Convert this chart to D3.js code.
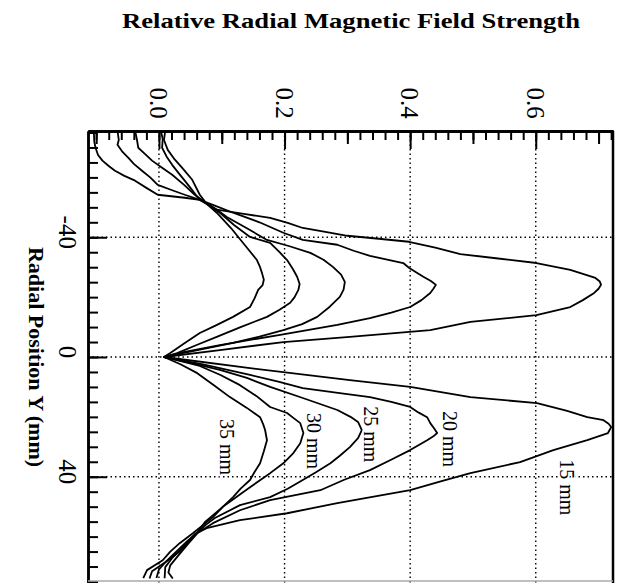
<!DOCTYPE html>
<html>
<head>
<meta charset="utf-8">
<script src="https://cdn.jsdelivr.net/npm/d3@7"></script>
<style>
  body { margin: 0; background: #fff; }
</style>
</head>
<body>
<div id="chart"></div>
<script>
const width = 626;
const height = 583;
const margin = { top: 131, right: 13, bottom: 0, left: 88 };

// tick values / labels
const xTicksMajor = [0, 0.2, 0.4, 0.6];
const xTickLabels = ["0.0", "0.2", "0.4", "0.6"];
const yTicksMajor = [-40, 0, 40];
const yTickLabels = ["-40", "0", "40"];

// curves: [radial position Y (mm), relative field strength]
const curve15 = [[-76.5,-0.104],[-72,-0.103],[-69.9,-0.101],[-67.5,-0.097],[-65.6,-0.090],[-63.8,-0.080],[-62.2,-0.070],[-60.5,-0.055],[-58.9,-0.038],[-56.5,-0.020],[-54.2,-0.002],[-53.2,0.041],[-52.5,0.065],[-49.2,0.092],[-47.8,0.135],[-46.5,0.177],[-44.8,0.205],[-43.1,0.229],[-41.8,0.265],[-40.5,0.300],[-39.5,0.350],[-38.5,0.398],[-36.5,0.440],[-34.4,0.480],[-32.9,0.540],[-31.4,0.601],[-29.1,0.655],[-26.4,0.695],[-25.2,0.702],[-24.1,0.704],[-22.8,0.700],[-21.4,0.693],[-19,0.675],[-16.7,0.655],[-14.0,0.601],[-11.7,0.496],[-9.0,0.432],[-6.7,0.304],[-5.0,0.198],[-2.3,0.097],[0,0.008],[3.7,0.145],[7.7,0.304],[10.0,0.400],[13.4,0.496],[15.4,0.602],[18,0.650],[20.1,0.682],[21.1,0.708],[22.3,0.716],[23.4,0.720],[25.4,0.715],[27.8,0.682],[31.1,0.628],[35.1,0.575],[38.8,0.496],[41.5,0.450],[44.5,0.400],[48.8,0.284],[52.2,0.204],[54.5,0.129],[57.2,0.076],[59,0.058],[61.2,0.048],[65,0.033],[68.6,0.010],[71.6,-0.011],[74,-0.015]];
const curve20 = [[-75.5,-0.066],[-72.5,-0.064],[-70.9,-0.066],[-68.5,-0.058],[-66.6,-0.049],[-64.5,-0.040],[-62.2,-0.027],[-60,-0.014],[-57.5,-0.002],[-55.8,0.020],[-54.2,0.041],[-52.5,0.065],[-50.5,0.090],[-48.2,0.118],[-45,0.160],[-41.5,0.198],[-39.1,0.229],[-37.5,0.284],[-35.5,0.310],[-33.8,0.336],[-31.4,0.389],[-29.8,0.398],[-28.2,0.410],[-26.8,0.421],[-25.4,0.433],[-24.1,0.441],[-22.8,0.437],[-21.4,0.432],[-19,0.418],[-16.7,0.400],[-14.8,0.370],[-13.0,0.336],[-10.7,0.284],[-7.4,0.193],[-4.0,0.097],[-1.5,0.035],[0,0.008],[2.5,0.070],[6.0,0.145],[8.2,0.190],[10.4,0.229],[12,0.285],[13.4,0.336],[15,0.370],[16.7,0.400],[18.5,0.413],[20.1,0.427],[22.1,0.432],[23.8,0.438],[25.4,0.443],[26.5,0.437],[27.8,0.427],[31.1,0.400],[34.5,0.368],[37.8,0.336],[41,0.295],[44.5,0.257],[47.8,0.177],[51.2,0.129],[55.5,0.086],[58.9,0.061],[62,0.048],[64.5,0.038],[67,0.028],[69.6,0.018],[72,0.015],[74,0.022]];
const curve25 = [[-75.6,-0.038],[-72.5,-0.035],[-69.9,-0.033],[-67.8,-0.022],[-65.6,-0.011],[-63.2,0.005],[-60.9,0.021],[-57.5,0.040],[-54.2,0.057],[-51.8,0.073],[-49.5,0.090],[-46.8,0.108],[-43,0.140],[-39.1,0.172],[-37,0.208],[-34.8,0.241],[-32.5,0.262],[-30.1,0.277],[-27.5,0.290],[-25.1,0.296],[-22.5,0.294],[-20.1,0.288],[-16.8,0.272],[-13.4,0.252],[-11,0.228],[-9.0,0.198],[-6.8,0.160],[-4.7,0.118],[-1.3,0.038],[0,0.008],[2,0.050],[4.3,0.097],[7,0.140],[10.0,0.177],[13.7,0.229],[17.7,0.284],[20,0.305],[21.7,0.317],[24.4,0.323],[27.1,0.317],[30.1,0.304],[33,0.288],[35.5,0.273],[38.5,0.250],[41.1,0.229],[44,0.205],[46.8,0.177],[49.5,0.129],[53.8,0.089],[56,0.075],[58.9,0.060],[61.5,0.045],[63.9,0.033],[66.5,0.020],[68.6,0.010],[71,0.000],[73.8,-0.004]];
const curve30 = [[-75.6,0.003],[-72.8,0.006],[-69.9,0.005],[-67,0.012],[-64.2,0.021],[-61.5,0.031],[-58.9,0.041],[-56,0.052],[-53.2,0.062],[-51.2,0.076],[-48.2,0.097],[-44,0.120],[-40.1,0.145],[-38.1,0.177],[-35,0.192],[-32.4,0.204],[-29.5,0.213],[-26.8,0.220],[-24.4,0.224],[-22.4,0.222],[-20,0.216],[-18.1,0.209],[-15.8,0.192],[-13.4,0.172],[-10,0.130],[-6.7,0.092],[-4,0.060],[-1.3,0.029],[0,0.008],[3.0,0.065],[6,0.098],[9.4,0.129],[13,0.155],[16.7,0.177],[18.7,0.204],[20.5,0.215],[22.1,0.225],[25.4,0.230],[28.8,0.225],[32.1,0.214],[35.5,0.198],[38.8,0.177],[43.5,0.145],[46.5,0.125],[49.5,0.105],[52.5,0.088],[55.2,0.073],[58.9,0.060],[61,0.050],[62.9,0.041],[66.9,0.022],[70.2,0.010],[73.9,0.009]];
const curve35 = [[-75.6,0.010],[-72.5,0.008],[-69.2,0.014],[-66,0.025],[-63.2,0.037],[-59.2,0.053],[-54.2,0.065],[-51.2,0.076],[-48.2,0.092],[-43,0.115],[-38.1,0.134],[-35,0.146],[-32.4,0.156],[-30,0.161],[-28.1,0.164],[-25.8,0.167],[-24,0.165],[-22.4,0.158],[-19.5,0.152],[-16.7,0.145],[-13.4,0.118],[-10.5,0.090],[-8.0,0.065],[-4.5,0.040],[-1.3,0.018],[0,0.008],[2.5,0.035],[5.4,0.061],[9.5,0.088],[13.4,0.113],[17,0.140],[20.1,0.161],[22.5,0.166],[24.4,0.169],[27.8,0.172],[31.5,0.167],[35.5,0.161],[38.5,0.152],[41.1,0.145],[44,0.130],[46.8,0.118],[50,0.102],[53.5,0.086],[56.5,0.068],[58.9,0.054],[62.2,0.033],[65,0.018],[67.9,0.006],[71.2,-0.019],[73.9,-0.025]];

const curves = [curve15, curve20, curve25, curve30, curve35];
const curveNames = ["15 mm", "20 mm", "25 mm", "30 mm", "35 mm"];

const serif = "'Liberation Serif', 'Times New Roman', serif";

const svg = d3.select("#chart")
  .append("svg")
  .attr("width", width)
  .attr("height", height);

// value runs left -> right, radial position runs top -> bottom
const x = d3.scaleLinear()
  .domain([-0.113, 0.723])
  .range([margin.left, width - margin.right]);

const y = d3.scaleLinear()
  .domain([-75.5, 75.5])
  .range([margin.top, height - margin.bottom]);

svg.append("clipPath")
  .attr("id", "plotClip")
  .append("rect")
  .attr("x", margin.left)
  .attr("y", margin.top)
  .attr("width", width - margin.right - margin.left)
  .attr("height", height - margin.top);

// Dotted grid
svg.append("g")
  .selectAll("line")
  .data(xTicksMajor)
  .join("line")
  .attr("x1", d => x(d))
  .attr("x2", d => x(d))
  .attr("y1", margin.top)
  .attr("y2", height)
  .attr("stroke", "#000")
  .attr("stroke-width", 1.4)
  .attr("stroke-dasharray", "1.5,3");

svg.append("g")
  .selectAll("line")
  .data(yTicksMajor)
  .join("line")
  .attr("x1", margin.left)
  .attr("x2", width - margin.right)
  .attr("y1", d => y(d))
  .attr("y2", d => y(d))
  .attr("stroke", "#000")
  .attr("stroke-width", 1.4)
  .attr("stroke-dasharray", "1.5,3");

// Curves
const line = d3.line()
  .x(d => x(d[1]))
  .y(d => y(d[0]));

svg.append("g")
  .attr("clip-path", "url(#plotClip)")
  .selectAll("path")
  .data(curves)
  .join("path")
  .attr("d", line)
  .attr("fill", "none")
  .attr("stroke", "#000")
  .attr("stroke-width", 1.8)
  .attr("stroke-linejoin", "round");

// Curve labels (rotated like the rest of the figure)
const labelSpots = [[43.5, 0.649], [27.4, 0.464], [25.8, 0.338], [28.1, 0.247], [30.1, 0.108]];
svg.append("g")
  .selectAll("text")
  .data(curveNames)
  .join("text")
  .attr("transform", (d, i) => `translate(${x(labelSpots[i][1])},${y(labelSpots[i][0])}) rotate(90)`)
  .attr("dy", "0.35em")
  .attr("text-anchor", "middle")
  .attr("font-family", serif)
  .attr("font-size", "20px")
  .attr("fill", "#000")
  .attr("stroke", "#fff")
  .attr("stroke-width", 3)
  .attr("paint-order", "stroke")
  .text(d => d);

// Axes with inward ticks
const axisStyle = g => {
  g.selectAll("text").remove();
  g.selectAll("line").attr("stroke", "#000").attr("stroke-width", 2);
  g.select(".domain").attr("stroke", "#000").attr("stroke-width", 2.5);
};

const xMinor = d3.range(-0.1, 0.73, 0.02).map(v => Math.round(v * 100) / 100);
const xMid = [-0.1, 0.1, 0.3, 0.5, 0.7];
const topY = margin.top;

svg.append("g").attr("transform", `translate(0,${topY})`)
  .call(d3.axisTop(x).tickValues(xMinor).tickSize(-9).tickSizeOuter(0)).call(axisStyle);
svg.append("g").attr("transform", `translate(0,${topY})`)
  .call(d3.axisTop(x).tickValues(xMid).tickSize(-13).tickSizeOuter(0)).call(axisStyle);
svg.append("g").attr("transform", `translate(0,${topY})`)
  .call(d3.axisTop(x).tickValues(xTicksMajor).tickSize(-18).tickSizeOuter(0)).call(axisStyle);

const yMinor = d3.range(-75, 76, 5);
svg.append("g").attr("transform", `translate(${margin.left},0)`)
  .call(d3.axisLeft(y).tickValues(yMinor).tickSize(-10).tickSizeOuter(0)).call(axisStyle);
svg.append("g").attr("transform", `translate(${margin.left},0)`)
  .call(d3.axisLeft(y).tickValues(yTicksMajor).tickSize(-19).tickSizeOuter(0)).call(axisStyle);

// right frame and faint bottom edge
svg.append("line")
  .attr("x1", width - margin.right).attr("x2", width - margin.right)
  .attr("y1", margin.top).attr("y2", height)
  .attr("stroke", "#000").attr("stroke-width", 2.5);

svg.append("line")
  .attr("x1", margin.left).attr("x2", width - margin.right)
  .attr("y1", height - 2).attr("y2", height - 2)
  .attr("stroke", "#aaa").attr("stroke-width", 1.5);

// Tick labels, rotated 90deg
svg.append("g")
  .selectAll("text")
  .data(xTicksMajor)
  .join("text")
  .attr("transform", d => `translate(${x(d)},103) rotate(90)`)
  .attr("dy", "0.35em")
  .attr("text-anchor", "middle")
  .attr("font-family", serif)
  .attr("font-size", "25px")
  .text((d, i) => xTickLabels[i]);

svg.append("g")
  .selectAll("text")
  .data(yTicksMajor)
  .join("text")
  .attr("transform", d => `translate(68,${y(d) - 5}) rotate(90)`)
  .attr("dy", "0.35em")
  .attr("text-anchor", "middle")
  .attr("font-family", serif)
  .attr("font-size", "25px")
  .text((d, i) => yTickLabels[i]);

// Titles
svg.append("text")
  .attr("x", 351)
  .attr("y", 28)
  .attr("text-anchor", "middle")
  .attr("font-family", serif)
  .attr("font-weight", "bold")
  .attr("font-size", "22px")
  .attr("textLength", 458)
  .attr("lengthAdjust", "spacingAndGlyphs")
  .text("Relative Radial Magnetic Field Strength");

svg.append("text")
  .attr("transform", `translate(29,${y(0)}) rotate(90)`)
  .attr("text-anchor", "middle")
  .attr("font-family", serif)
  .attr("font-weight", "bold")
  .attr("font-size", "22px")
  .text("Radial Position Y (mm)");
</script>
</body>
</html>
